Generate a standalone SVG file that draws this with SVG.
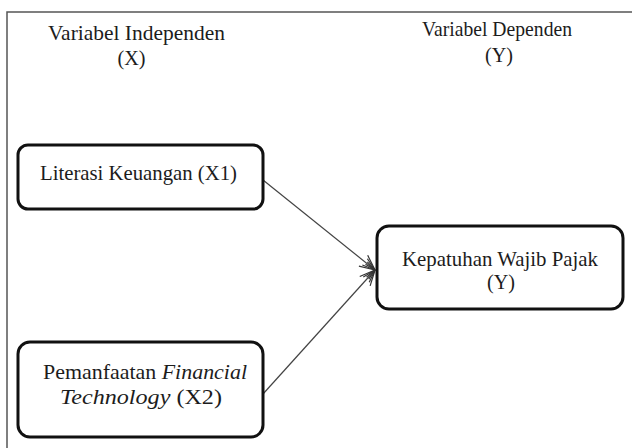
<svg xmlns="http://www.w3.org/2000/svg" width="632" height="448" viewBox="0 0 632 448">
  <style>
    .t { font-family: "Liberation Serif", "DejaVu Serif", "Times New Roman", serif; font-size: 22px; fill: #1c1c1c; text-anchor: middle; }
    .box { fill: #ffffff; stroke: #111111; stroke-width: 3; }
    .edge { stroke: #444444; stroke-width: 1.2; fill: none; }
    .frame { stroke: #555555; stroke-width: 1.5; fill: none; }
  </style>
  <defs>
    <marker id="arr" markerUnits="userSpaceOnUse" markerWidth="24" markerHeight="24" refX="20" refY="12" orient="auto">
      <g stroke="#333333" stroke-width="1.2" fill="none">
        <line x1="20" y1="12" x2="5" y2="5"/>
        <line x1="20" y1="12" x2="5" y2="19"/>
        <line x1="20" y1="12" x2="7" y2="8"/>
        <line x1="20" y1="12" x2="7" y2="16"/>
        <line x1="20" y1="12" x2="9" y2="10.5"/>
        <line x1="20" y1="12" x2="9" y2="13.5"/>
      </g>
    </marker>
  </defs>
  <rect x="0" y="0" width="632" height="448" fill="#ffffff"/>
  <path class="frame" d="M7,448 L7,12 L632,12"/>
  <g id="header-x">
    <text class="t" x="136.5" y="40" textLength="177" lengthAdjust="spacingAndGlyphs">Variabel Independen</text>
    <text class="t" x="131.5" y="65" textLength="28" lengthAdjust="spacingAndGlyphs">(X)</text>
  </g>
  <g id="header-y">
    <text class="t" x="497" y="36" textLength="150" lengthAdjust="spacingAndGlyphs">Variabel Dependen</text>
    <text class="t" x="499" y="62" textLength="28" lengthAdjust="spacingAndGlyphs">(Y)</text>
  </g>
  <g id="connectors">
    <line class="edge" x1="263" y1="180" x2="375" y2="270" marker-end="url(#arr)"/>
    <line class="edge" x1="263" y1="394" x2="375" y2="270" marker-end="url(#arr)"/>
  </g>
  <g id="node-x1">
    <rect class="box" x="18" y="145" width="245" height="64" rx="10" ry="10"/>
    <text class="t" x="138.5" y="180" textLength="197" lengthAdjust="spacingAndGlyphs">Literasi Keuangan (X1)</text>
  </g>
  <g id="node-x2">
    <rect class="box" x="18" y="342" width="245" height="95" rx="12" ry="12"/>
    <text class="t" x="145" y="379" textLength="204" lengthAdjust="spacingAndGlyphs">Pemanfaatan <tspan font-style="italic">Financial</tspan></text>
    <text class="t" x="141" y="404" textLength="162" lengthAdjust="spacingAndGlyphs"><tspan font-style="italic">Technology</tspan> (X2)</text>
  </g>
  <g id="node-y">
    <rect class="box" x="377" y="226" width="246" height="83" rx="12" ry="12"/>
    <text class="t" x="500" y="266" textLength="196" lengthAdjust="spacingAndGlyphs">Kepatuhan Wajib Pajak</text>
    <text class="t" x="501" y="289" textLength="28" lengthAdjust="spacingAndGlyphs">(Y)</text>
  </g>
</svg>
